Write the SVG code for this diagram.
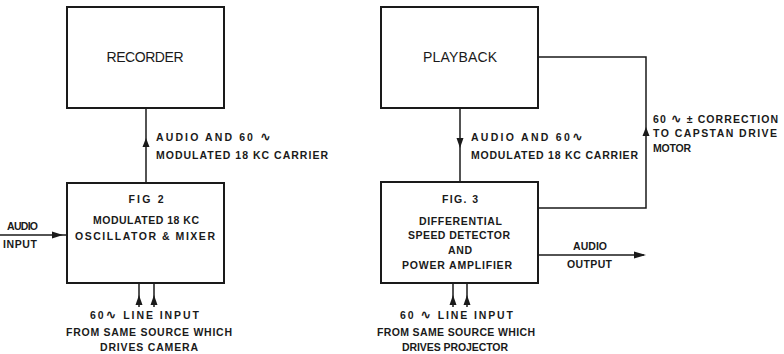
<svg xmlns="http://www.w3.org/2000/svg" width="784" height="354" viewBox="0 0 784 354">
<style>
.box{fill:#fff;stroke:#1a1a1a;stroke-width:2}
.ln{fill:none;stroke:#1a1a1a;stroke-width:1.5}
.ah{fill:#1a1a1a}
.t{font-family:"Liberation Sans",Arial,sans-serif;font-weight:bold;font-size:10.5px;fill:#1a1a1a}
.big{font-family:"Liberation Sans",Arial,sans-serif;font-size:14px;fill:#1a1a1a}
.m{text-anchor:middle}
.w{font-family:"DejaVu Sans",sans-serif;font-size:13px}
</style>
<rect width="784" height="354" fill="#fff"/>
<g id="connectors">
  <line class="ln" x1="146" y1="183" x2="146" y2="108"/>
  <polygon class="ah" points="146,138 142.5,147 149.5,147"/>
  <line class="ln" x1="0" y1="235" x2="67" y2="235"/>
  <polygon class="ah" points="63,235 52,231.5 52,238.5"/>
  <line class="ln" x1="139" y1="284" x2="139" y2="307"/>
  <line class="ln" x1="154" y1="284" x2="154" y2="307"/>
  <polygon class="ah" points="139,295 135.5,305 142.5,305"/>
  <polygon class="ah" points="154,295 150.5,305 157.5,305"/>
  <line class="ln" x1="460" y1="108" x2="460" y2="182"/>
  <polygon class="ah" points="460,148 456.5,138 463.5,138"/>
  <polyline class="ln" points="538,57 646,57 646,208 538,208"/>
  <polygon class="ah" points="646,127 642.5,136 649.5,136"/>
  <line class="ln" x1="538" y1="255" x2="644" y2="255"/>
  <polygon class="ah" points="646,255 634,251.5 634,258.5"/>
  <line class="ln" x1="453" y1="284" x2="453" y2="307"/>
  <line class="ln" x1="467" y1="284" x2="467" y2="307"/>
  <polygon class="ah" points="453,295 449.5,305 456.5,305"/>
  <polygon class="ah" points="467,295 463.5,305 470.5,305"/>
</g>
<g id="recorder">
  <rect class="box" x="67" y="7" width="157" height="101"/>
  <text class="big m" x="145" y="62" textLength="77" lengthAdjust="spacing">RECORDER</text>
</g>
<g id="fig2">
  <rect class="box" x="67" y="183" width="157" height="100"/>
  <text class="t m" x="146" y="203" textLength="35" lengthAdjust="spacing">FIG 2</text>
  <text class="t m" x="146" y="224" textLength="106" lengthAdjust="spacing">MODULATED 18 KC</text>
  <text class="t m" x="145" y="240" textLength="140" lengthAdjust="spacing">OSCILLATOR &amp; MIXER</text>
</g>
<g id="playback">
  <rect class="box" x="381" y="7" width="157" height="101"/>
  <text class="big m" x="460" y="62" textLength="74" lengthAdjust="spacing">PLAYBACK</text>
</g>
<g id="fig3">
  <rect class="box" x="381" y="182" width="157" height="101"/>
  <text class="t m" x="460" y="203" textLength="36" lengthAdjust="spacing">FIG. 3</text>
  <text class="t m" x="460.5" y="225" textLength="83" lengthAdjust="spacing">DIFFERENTIAL</text>
  <text class="t m" x="459" y="239" textLength="102" lengthAdjust="spacing">SPEED DETECTOR</text>
  <text class="t m" x="460" y="254" textLength="24" lengthAdjust="spacing">AND</text>
  <text class="t m" x="457" y="269" textLength="110" lengthAdjust="spacing">POWER AMPLIFIER</text>
</g>
<g id="labels">
  <text class="t" x="156" y="141" textLength="115" lengthAdjust="spacing">AUDIO AND 60 <tspan class="w">∿</tspan></text>
  <text class="t" x="156" y="159" textLength="172" lengthAdjust="spacing">MODULATED 18 KC CARRIER</text>
  <text class="t" x="7" y="230" textLength="31" lengthAdjust="spacing">AUDIO</text>
  <text class="t" x="3" y="248" textLength="34" lengthAdjust="spacing">INPUT</text>
  <text class="t m" x="144.5" y="319" textLength="109" lengthAdjust="spacing">60<tspan class="w">∿</tspan> LINE INPUT</text>
  <text class="t m" x="149" y="336" textLength="166" lengthAdjust="spacing">FROM SAME SOURCE WHICH</text>
  <text class="t m" x="149" y="351" textLength="98" lengthAdjust="spacing">DRIVES CAMERA</text>
  <text class="t" x="471" y="141" textLength="112" lengthAdjust="spacing">AUDIO AND 60<tspan class="w">∿</tspan></text>
  <text class="t" x="471" y="159" textLength="167" lengthAdjust="spacing">MODULATED 18 KC CARRIER</text>
  <text class="t" x="653" y="123" textLength="125" lengthAdjust="spacing">60 <tspan class="w">∿</tspan> ± CORRECTION</text>
  <text class="t" x="653" y="137" textLength="124" lengthAdjust="spacing">TO CAPSTAN DRIVE</text>
  <text class="t" x="653" y="152" textLength="38" lengthAdjust="spacing">MOTOR</text>
  <text class="t m" x="590" y="250" textLength="34" lengthAdjust="spacing">AUDIO</text>
  <text class="t m" x="589.5" y="268" textLength="45" lengthAdjust="spacing">OUTPUT</text>
  <text class="t m" x="456.5" y="319" textLength="113" lengthAdjust="spacing">60 <tspan class="w">∿</tspan> LINE INPUT</text>
  <text class="t m" x="456" y="336" textLength="158" lengthAdjust="spacing">FROM SAME SOURCE WHICH</text>
  <text class="t m" x="455" y="351" textLength="106" lengthAdjust="spacing">DRIVES PROJECTOR</text>
</g>
</svg>
